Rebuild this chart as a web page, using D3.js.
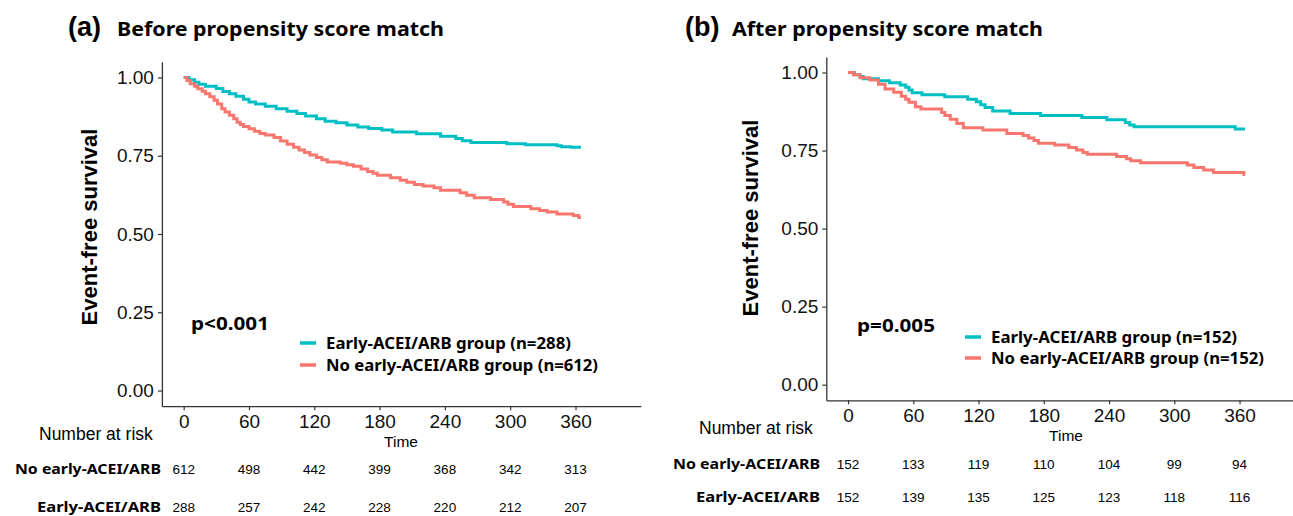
<!DOCTYPE html>
<html>
<head>
<meta charset="utf-8">
<script src="https://cdn.jsdelivr.net/npm/d3@7"></script>
<style>
  body { margin: 0; background: #fff; }
  svg { display: block; }
  .tick text { font-family: "Liberation Sans", Arial, sans-serif; }
</style>
</head>
<body>
<div id="chart"></div>
<script>
// ----------------------------------------------------------
// DATA -----------------------------------------------------
// ----------------------------------------------------------
var timeTicks = [0, 60, 120, 180, 240, 300, 360];
var survTicks = [0, 0.25, 0.5, 0.75, 1];
var groupNames = ["Early-ACEI/ARB group", "No early-ACEI/ARB group"];
var riskNames = ["No early-ACEI/ARB", "Early-ACEI/ARB"];

// KM steps: [day, survival from that day on]
var kmBeforeEarly = [[0,1],[5,0.993],[10,0.985],[14,0.978],[20,0.972],[30,0.965],[36,0.955],[42,0.948],
  [48,0.94],[55,0.93],[60,0.922],[66,0.915],[75,0.908],[85,0.9],[95,0.892],[104,0.885],[112,0.877],
  [122,0.868],[130,0.86],[140,0.855],[150,0.848],[160,0.842],[170,0.837],[182,0.832],[192,0.826],
  [214,0.82],[236,0.812],[250,0.805],[256,0.798],[264,0.792],[297,0.788],[314,0.785],[343,0.782],
  [347,0.779],[356,0.777],[365,0.777]];
var kmBeforeNoEarly = [[0,1],[3,0.99],[6,0.98],[10,0.972],[13,0.964],[17,0.956],[20,0.948],[24,0.938],
  [28,0.927],[31,0.915],[35,0.9],[38,0.89],[42,0.879],[46,0.868],[49,0.857],[52,0.85],[55,0.843],
  [60,0.836],[65,0.828],[70,0.821],[75,0.816],[83,0.808],[89,0.797],[95,0.787],[101,0.777],
  [106,0.768],[111,0.76],[116,0.752],[122,0.744],[127,0.737],[132,0.73],[144,0.726],[150,0.721],
  [156,0.716],[163,0.708],[169,0.7],[174,0.694],[178,0.688],[190,0.68],[199,0.672],[205,0.665],
  [212,0.658],[220,0.653],[230,0.648],[236,0.64],[254,0.632],[260,0.624],[267,0.616],[282,0.61],
  [294,0.602],[298,0.595],[303,0.588],[319,0.581],[327,0.575],[334,0.57],[343,0.564],[358,0.559],
  [363,0.553],[365,0.553]];
var kmAfterEarly = [[0,1],[6,0.993],[11,0.987],[14,0.98],[28,0.974],[38,0.967],[48,0.96],[53,0.953],
  [56,0.944],[59,0.935],[68,0.929],[89,0.922],[110,0.914],[118,0.906],[122,0.897],[126,0.888],
  [133,0.877],[149,0.869],[177,0.862],[215,0.856],[238,0.849],[255,0.84],[259,0.832],[263,0.826],
  [356,0.819],[365,0.819]];
var kmAfterNoEarly = [[0,1],[5,0.993],[11,0.983],[20,0.976],[28,0.962],[34,0.947],[42,0.937],[49,0.924],
  [53,0.914],[56,0.905],[62,0.89],[67,0.883],[86,0.872],[89,0.862],[94,0.85],[100,0.837],[106,0.823],
  [124,0.816],[146,0.805],[161,0.798],[166,0.79],[171,0.782],[175,0.773],[190,0.768],[203,0.76],
  [210,0.752],[216,0.744],[220,0.738],[247,0.731],[256,0.724],[260,0.717],[269,0.711],[312,0.704],
  [318,0.696],[327,0.688],[336,0.68],[364,0.673],[365,0.673]];

// numbers at risk at the time ticks
var riskBeforeNoEarly = [612, 498, 442, 399, 368, 342, 313];
var riskBeforeEarly = [288, 257, 242, 228, 220, 212, 207];
var riskAfterNoEarly = [152, 133, 119, 110, 104, 99, 94];
var riskAfterEarly = [152, 139, 135, 125, 123, 118, 116];

var groupSizesBefore = [288, 612];
var groupSizesAfter = [152, 152];

// ----------------------------------------------------------
// LAYOUT ---------------------------------------------------
// ----------------------------------------------------------
var colors = ["#00BFC4", "#F8766D"];
var axisColor = "#333333";
var titleFont = "'Noto Sans', 'DejaVu Sans', sans-serif";
var plainFont = "'Liberation Sans', Arial, sans-serif";

var panels = [
  { letter: "(a)", title: "Before propensity score match", curves: [kmBeforeEarly, kmBeforeNoEarly],
    risk: [riskBeforeNoEarly, riskBeforeEarly], sizes: groupSizesBefore, p: "p<0.001",
    left: 161.9, right: 640.8, top: 61.8, bottom: 406.2,
    letterX: 68, titleX: 117, titleW: 327, titleY: 36,
    yTitleX: 97, yTitleY: 227, tickLabelY: 428,
    pX: 191, pY: 330, pW: 78,
    legX: 300, legY: [343, 365], legW: [245, 272],
    narX: 39, narY: 440, timeX: 401, timeY: 447,
    rowRight: 161, rowY: [474, 512], rowW: [146, 124] },
  { letter: "(b)", title: "After propensity score match", curves: [kmAfterEarly, kmAfterNoEarly],
    risk: [riskAfterNoEarly, riskAfterEarly], sizes: groupSizesAfter, p: "p=0.005",
    left: 826.3, right: 1304.8, top: 56.9, bottom: 400.3,
    letterX: 685, titleX: 732, titleW: 311, titleY: 36,
    yTitleX: 758, yTitleY: 218, tickLabelY: 422,
    pX: 857, pY: 332, pW: 78,
    legX: 965, legY: [337, 358], legW: [246, 273],
    narX: 699, narY: 434, timeX: 1066, timeY: 441,
    rowRight: 820, rowY: [469, 502], rowW: [147, 124] }
];

var svg = d3.select("#chart").append("svg")
  .attr("width", 1293)
  .attr("height", 516)
  .style("background-color", "#fff");

panels.forEach(function(pn) {
  var g = svg.append("g");

  var x = d3.scaleLinear().domain([-20, 420]).range([pn.left, pn.right]);
  var y = d3.scaleLinear().domain([-0.05, 1.05]).range([pn.bottom, pn.top]);

  // titles
  g.append("text")
    .attr("x", pn.letterX).attr("y", pn.titleY)
    .style("font-family", plainFont).style("font-weight", "bold").style("font-size", "27px")
    .text(pn.letter);
  g.append("text")
    .attr("x", pn.titleX).attr("y", pn.titleY)
    .attr("textLength", pn.titleW).attr("lengthAdjust", "spacingAndGlyphs")
    .style("font-family", titleFont).style("font-weight", "bold").style("font-size", "20px")
    .text(pn.title);

  // y axis
  var yAxis = g.append("g")
    .attr("transform", "translate(" + pn.left + ",0)")
    .call(d3.axisLeft(y).tickValues(survTicks).tickFormat(d3.format(".2f")).tickSize(4).tickPadding(4).tickSizeOuter(0));
  yAxis.select(".domain").attr("stroke", axisColor).attr("stroke-width", 1.3);
  yAxis.selectAll(".tick line").attr("stroke", axisColor).attr("stroke-width", 1.2);
  yAxis.selectAll(".tick text").style("font-size", "19px").attr("fill", "#111");

  // x axis
  var xAxis = g.append("g")
    .attr("transform", "translate(0," + pn.bottom + ")")
    .call(d3.axisBottom(x).tickValues(timeTicks).tickSize(4).tickSizeOuter(0));
  xAxis.select(".domain").attr("stroke", axisColor).attr("stroke-width", 1.3);
  xAxis.selectAll(".tick line").attr("stroke", axisColor).attr("stroke-width", 1.2);
  xAxis.selectAll(".tick text")
    .attr("y", pn.tickLabelY - pn.bottom).attr("dy", null)
    .style("font-size", "19px").attr("fill", "#111");

  // y axis title
  g.append("text")
    .attr("transform", "translate(" + pn.yTitleX + "," + pn.yTitleY + ") rotate(-90)")
    .attr("text-anchor", "middle")
    .style("font-family", plainFont).style("font-weight", "bold").style("font-size", "22px")
    .text("Event-free survival");

  // KM curves
  var line = d3.line()
    .curve(d3.curveStepAfter)
    .x(function(d) { return x(d[0]); })
    .y(function(d) { return y(d[1]); });
  pn.curves.forEach(function(c, i) {
    g.append("path")
      .datum(c)
      .attr("d", line)
      .attr("fill", "none")
      .attr("stroke", colors[i])
      .attr("stroke-width", 3);
  });

  // p value
  g.append("text")
    .attr("x", pn.pX).attr("y", pn.pY)
    .attr("textLength", pn.pW).attr("lengthAdjust", "spacingAndGlyphs")
    .style("font-family", titleFont).style("font-weight", "bold").style("font-size", "17px")
    .text(pn.p);

  // legend
  groupNames.forEach(function(name, i) {
    g.append("line")
      .attr("x1", pn.legX).attr("x2", pn.legX + 16)
      .attr("y1", pn.legY[i]).attr("y2", pn.legY[i])
      .attr("stroke", colors[i]).attr("stroke-width", 3.5);
    g.append("text")
      .attr("x", pn.legX + 26).attr("y", pn.legY[i] + 5.5)
      .attr("textLength", pn.legW[i]).attr("lengthAdjust", "spacingAndGlyphs")
      .style("font-family", titleFont).style("font-weight", "bold").style("font-size", "15.5px")
      .text(name + " (n=" + pn.sizes[i] + ")");
  });

  // risk table
  g.append("text")
    .attr("x", pn.narX).attr("y", pn.narY)
    .style("font-family", plainFont).style("font-size", "17.5px")
    .text("Number at risk");
  g.append("text")
    .attr("x", pn.timeX).attr("y", pn.timeY)
    .attr("text-anchor", "middle")
    .style("font-family", plainFont).style("font-size", "15.5px")
    .text("Time");
  riskNames.forEach(function(name, r) {
    g.append("text")
      .attr("x", pn.rowRight).attr("y", pn.rowY[r])
      .attr("text-anchor", "end")
      .attr("textLength", pn.rowW[r]).attr("lengthAdjust", "spacingAndGlyphs")
      .style("font-family", titleFont).style("font-weight", "bold").style("font-size", "14.5px")
      .text(name);
    g.selectAll(null)
      .data(pn.risk[r])
      .enter()
      .append("text")
      .attr("x", function(d, i) { return x(timeTicks[i]); })
      .attr("y", pn.rowY[r])
      .attr("text-anchor", "middle")
      .style("font-family", plainFont).style("font-size", "13.5px")
      .text(function(d) { return d; });
  });
});
</script>
</body>
</html>
